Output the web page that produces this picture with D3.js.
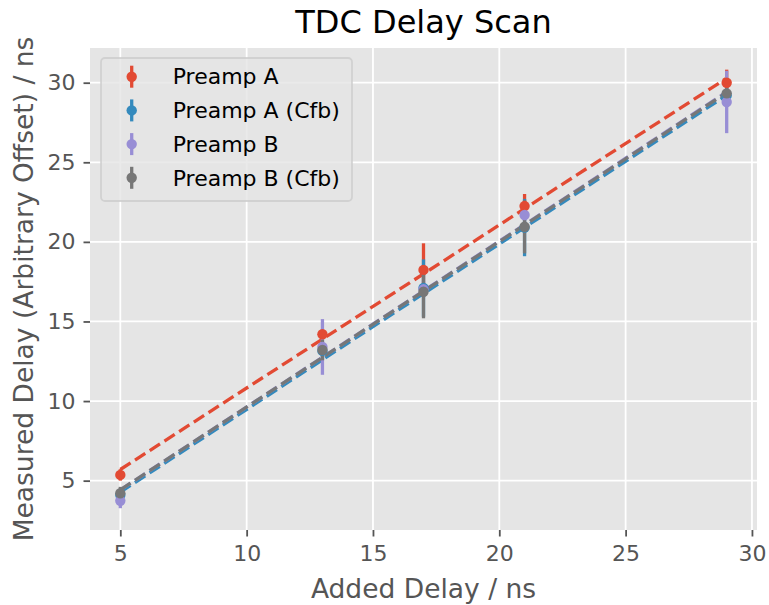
<!DOCTYPE html>
<html>
<head>
<meta charset="utf-8">
<script src="https://cdn.jsdelivr.net/npm/d3@7"></script>
<style>
  html, body { margin: 0; padding: 0; background: #ffffff; }
  svg { display: block; font-family: "DejaVu Sans", sans-serif; }
</style>
</head>
<body>
<svg id="chart" width="769" height="605"></svg>
<script>
// Added delay settings (ns)
const addedDelay = [5, 13, 17, 21, 29];

// Series names and colours
const seriesNames = ["Preamp A", "Preamp A (Cfb)", "Preamp B", "Preamp B (Cfb)"];
const seriesColors = ["#E24A33", "#348ABD", "#988ED5", "#777777"];

// Measured delay (ns) per series
const preampA    = [5.36, 14.2, 18.24, 22.25, 30.0];
const preampACfb = [4.1, 13.15, 17.1, 20.9, 29.2];
const preampB    = [3.74, 13.4, 17.02, 21.69, 28.79];
const preampBCfb = [4.21, 13.21, 16.87, 20.95, 29.33];

// Uncertainty (ns) per series
const errA    = [0.36, 0.3, 1.67, 0.76, 0.82];
const errACfb = [0.3, 0.6, 1.8, 1.8, 0.4];
const errB    = [0.47, 1.75, 0.5, 0.5, 1.96];
const errBCfb = [0.4, 0.65, 1.67, 1.67, 0.4];

// Linear fit lines: value at the first and last added delay
const fitStart = [5.7, 4.28, 4.42, 4.42];
const fitEnd   = [30.28, 29.22, 29.42, 29.38];

// Axis ticks
const xTicks = [5, 10, 15, 20, 25, 30];
const yTicks = [5, 10, 15, 20, 25, 30];

const seriesValues = [preampA, preampACfb, preampB, preampBCfb];
const seriesErrors = [errA, errACfb, errB, errBCfb];

const series = seriesNames.map((name, i) => ({
  name,
  color: seriesColors[i],
  points: addedDelay.map((x, j) => ({ x, y: seriesValues[i][j], e: seriesErrors[i][j] })),
  fit: [
    { x: addedDelay[0], y: fitStart[i] },
    { x: addedDelay[addedDelay.length - 1], y: fitEnd[i] }
  ]
}));

const svg = d3.select("#chart");
const plot = { left: 90, right: 757, top: 48, bottom: 530 };

const x = d3.scaleLinear().domain([3.8, 30.2]).range([plot.left, plot.right]);
const y = d3.scaleLinear().domain([1.9, 32.18]).range([plot.bottom, plot.top]);

// Panel background
svg.append("rect")
  .attr("x", plot.left).attr("y", plot.top)
  .attr("width", plot.right - plot.left).attr("height", plot.bottom - plot.top)
  .attr("fill", "#E5E5E5");

// Grid
const grid = svg.append("g").attr("stroke", "#ffffff").attr("stroke-width", 1.8);
grid.selectAll("line.gx").data(xTicks).join("line")
  .attr("x1", d => x(d)).attr("x2", d => x(d))
  .attr("y1", plot.top).attr("y2", plot.bottom);
grid.selectAll("line.gy").data(yTicks).join("line")
  .attr("y1", d => y(d)).attr("y2", d => y(d))
  .attr("x1", plot.left).attr("x2", plot.right);

// Axes
const xAxis = d3.axisBottom(x).tickValues(xTicks).tickSize(6.5).tickPadding(9).tickFormat(d3.format("d"));
const yAxis = d3.axisLeft(y).tickValues(yTicks).tickSize(6.5).tickPadding(8).tickFormat(d3.format("d"));

const gx = svg.append("g").attr("transform", `translate(0,${plot.bottom})`).call(xAxis);
const gy = svg.append("g").attr("transform", `translate(${plot.left},0)`).call(yAxis);
[gx, gy].forEach(g => {
  g.select(".domain").remove();
  g.selectAll(".tick line").attr("stroke", "#555555").attr("stroke-width", 1.8);
  g.selectAll(".tick text")
    .attr("fill", "#555555")
    .attr("font-size", 22)
    .attr("font-family", "DejaVu Sans, sans-serif");
});

// Error bars and fit lines, in series order
const dash = "12.2,5.3";
series.forEach(s => {
  svg.append("g").selectAll("line").data(s.points).join("line")
    .attr("x1", d => x(d.x)).attr("x2", d => x(d.x))
    .attr("y1", d => y(d.y - d.e)).attr("y2", d => y(d.y + d.e))
    .attr("stroke", s.color).attr("stroke-width", 3.3);
  svg.append("path")
    .datum(s.fit)
    .attr("d", d3.line().x(d => x(d.x)).y(d => y(d.y)))
    .attr("fill", "none")
    .attr("stroke", s.color)
    .attr("stroke-width", 3.3)
    .attr("stroke-dasharray", dash);
});

// Markers sit above all bars and lines
series.forEach(s => {
  svg.append("g").selectAll("circle").data(s.points).join("circle")
    .attr("cx", d => x(d.x)).attr("cy", d => y(d.y))
    .attr("r", 5.2)
    .attr("fill", s.color);
});

// Title and axis labels
svg.append("text")
  .attr("x", (plot.left + plot.right) / 2).attr("y", 33)
  .attr("text-anchor", "middle")
  .attr("font-size", 32).attr("fill", "#000000")
  .text("TDC Delay Scan");

svg.append("text")
  .attr("x", (plot.left + plot.right) / 2).attr("y", 598)
  .attr("text-anchor", "middle")
  .attr("font-size", 26.5).attr("fill", "#555555")
  .text("Added Delay / ns");

svg.append("text")
  .attr("transform", `translate(33,${(plot.top + plot.bottom) / 2}) rotate(-90)`)
  .attr("text-anchor", "middle")
  .attr("font-size", 26.5).attr("fill", "#555555")
  .text("Measured Delay (Arbitrary Offset) / ns");

// Legend
const legend = svg.append("g");
legend.append("rect")
  .attr("x", 101).attr("y", 58).attr("width", 251).attr("height", 143)
  .attr("rx", 4).attr("ry", 4)
  .attr("fill", "#E5E5E5").attr("fill-opacity", 0.8)
  .attr("stroke", "#CCCCCC").attr("stroke-opacity", 0.8).attr("stroke-width", 1.8);

const rows = legend.selectAll("g.row").data(series).join("g")
  .attr("transform", (d, i) => `translate(0,${76.7 + i * 33.7})`);
rows.append("line")
  .attr("x1", 131.7).attr("x2", 131.7).attr("y1", -11).attr("y2", 11)
  .attr("stroke", d => d.color).attr("stroke-width", 3.3);
rows.append("circle")
  .attr("cx", 131.7).attr("cy", 0).attr("r", 5.2)
  .attr("fill", d => d.color);
rows.append("text")
  .attr("x", 172.7).attr("y", 0).attr("dy", "0.35em")
  .attr("font-size", 22).attr("fill", "#000000")
  .text(d => d.name);
</script>
</body>
</html>
